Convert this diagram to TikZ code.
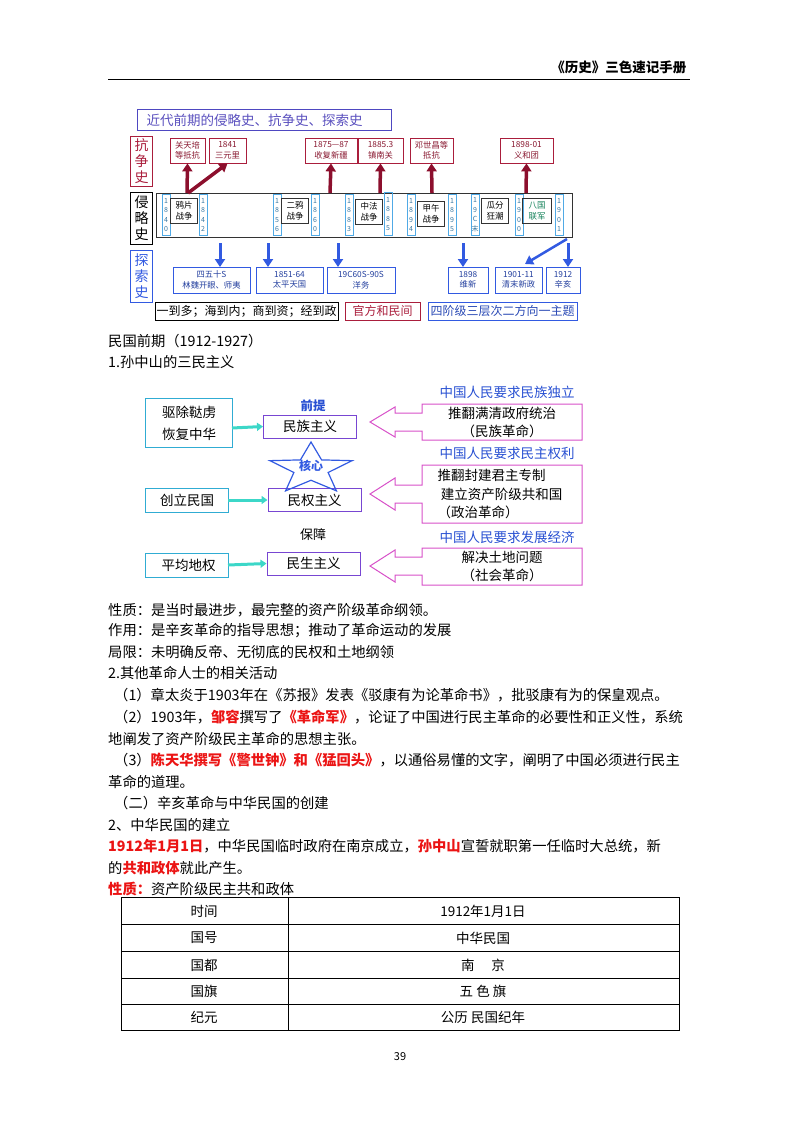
\documentclass[tikz,border=0pt]{standalone}
\usepackage{fontspec}
\setmainfont{Noto Sans CJK SC}
\usetikzlibrary{arrows.meta,shapes.geometric}
\definecolor{tred}{RGB}{170,30,60}
\definecolor{darr}{RGB}{140,15,45}
\definecolor{tblue}{RGB}{50,90,225}
\definecolor{ybox}{RGB}{80,170,230}
\definecolor{ttl}{RGB}{90,80,190}
\definecolor{cy}{RGB}{60,215,200}
\definecolor{purp}{RGB}{120,70,210}
\definecolor{pink}{RGB}{215,80,200}
\definecolor{hblue}{RGB}{40,80,210}
\definecolor{rtext}{RGB}{235,20,20}
\definecolor{ggreen}{RGB}{20,130,90}
\tikzset{
 yrbox/.style={draw=ybox,line width=0.8pt,inner sep=0pt,minimum width=8,minimum height=41,font=\fontsize{7}{9.5}\selectfont,text=ybox!70!black,align=center},
 evbox/.style={draw=black!80,line width=0.8pt,inner sep=1pt,minimum width=27,minimum height=25,font=\fontsize{8.5}{10.5}\selectfont,align=center},
 rbox/.style={draw=tred,line width=0.8pt,inner sep=0pt,minimum height=25,font=\fontsize{8.3}{10.5}\selectfont,text=tred!80!black,align=center},
 bbox/.style={draw=tblue,line width=0.8pt,inner sep=0pt,minimum height=26,font=\fontsize{8.3}{10.5}\selectfont,text=tblue!70!black,align=center},
 uparr/.style={darr,line width=3.5pt,-{Triangle[width=10pt,length=8pt]}},
 dnarr/.style={tblue,line width=3pt,-{Triangle[width=10pt,length=8pt]}},
 cyarr/.style={cy,line width=3pt,-{Triangle[width=8pt,length=6pt]}},
 lbox/.style={draw=cy!80!blue,line width=1pt,anchor=north west,font=\fontsize{13.5}{22}\selectfont,align=left,inner sep=5pt},
 mbox/.style={draw=purp,line width=1pt,font=\fontsize{13.5}{15}\selectfont,minimum width=93,minimum height=23},
 hd/.style={text=hblue,font=\fontsize{13.5}{15}\selectfont},
 body/.style={anchor=west,inner sep=0pt,font=\fontsize{14.3}{16}\selectfont},
 cell/.style={font=\fontsize{13.5}{15}\selectfont,inner sep=0pt},
 pk/.style={pink,line width=1pt}
}
\begin{document}
\begin{tikzpicture}[x=1pt,y=-1pt]
\useasboundingbox (0,0) rectangle (800,1132);
% header
\node[anchor=east,font=\bfseries\fontsize{13.5}{15}\selectfont] (hdr) at (690,67) {《历史》三色速记手册};
\draw[line width=0.6pt] (108,79) coordinate (hl) -- (690,79) coordinate (hr);
% ---- top diagram
\node[draw=tblue!80!purple,line width=1pt,minimum width=254,minimum height=21,anchor=north west,text=ttl,font=\fontsize{13.5}{15}\selectfont] (title) at (137,109) {\hspace*{-20pt}近代前期的侵略史、抗争史、探索史};
\node[draw=tred,line width=1pt,minimum width=22,minimum height=50,anchor=north west,text=tred,font=\fontsize{14}{16}\selectfont,align=center,inner sep=0pt] (l1) at (130,136) {抗\\争\\史};
\node[draw=black,line width=1pt,minimum width=22,minimum height=52,anchor=north west,font=\fontsize{14}{16}\selectfont,align=center,inner sep=0pt] (l2) at (130,192) {侵\\略\\史};
\node[draw=tblue,line width=1pt,minimum width=22,minimum height=52,anchor=north west,text=tblue,font=\fontsize{14}{16}\selectfont,align=center,inner sep=0pt] (l3) at (130,250) {探\\索\\史};
\node[draw=black!80,line width=1pt,minimum width=416,minimum height=44,anchor=north west] (tl) at (156,193) {};
% years
\node[yrbox] (y1840) at (166,215) {1\\8\\4\\0};
\node[yrbox] (y1842) at (203,215) {1\\8\\4\\2};
\node[yrbox] (y1856) at (277,215) {1\\8\\5\\6};
\node[yrbox] (y1860) at (315,215) {1\\8\\6\\0};
\node[yrbox] (y1883) at (349,215) {1\\8\\8\\3};
\node[yrbox,minimum height=43] (y1885) at (388,214) {1\\8\\8\\5};
\node[yrbox] (y1894) at (411,215) {1\\8\\9\\4};
\node[yrbox] (y1895) at (452,215) {1\\8\\9\\5};
\node[yrbox] (y19c) at (475,215) {1\\9\\C\\末};
\node[yrbox] (y1900) at (519,215) {1\\9\\0\\0};
\node[yrbox] (y1901) at (559,215) {1\\9\\0\\1};
% events
\node[evbox] (e1) at (184,211) {鸦片\\战争};
\node[evbox] (e2) at (295,211) {二鸦\\战争};
\node[evbox] (e3) at (369,212) {中法\\战争};
\node[evbox] (e4) at (431,214) {甲午\\战争};
\node[evbox] (e5) at (495,211) {瓜分\\狂潮};
\node[evbox,text=ggreen,minimum width=29] (e6) at (537,211) {八国\\联军};
% red boxes
\node[rbox,minimum width=35] (r1) at (187.5,150.5) {关天培\\等抵抗};
\node[rbox,minimum width=37] (r2) at (227.5,150.5) {1841\\三元里};
\node[rbox,minimum width=52] (r3) at (331,150.5) {1875—87\\收复新疆};
\node[rbox,minimum width=45] (r4) at (380.5,150.5) {1885.3\\镇南关};
\node[rbox,minimum width=43] (r5) at (431.5,150.5) {邓世昌等\\抵抗};
\node[rbox,minimum width=53] (r6) at (526.5,150.5) {1898-01\\义和团};
\coordinate (a1) at (187,193); \coordinate (a2) at (330,193);
\coordinate (a3) at (380,193); \coordinate (a4) at (432,193);
\coordinate (a5) at (526,193); \coordinate (a6) at (188,193);
\draw[uparr] (a1) -- (r1.south);
\draw[uparr] (a6) -- (r2.south);
\draw[uparr] (a2) -- (r3.south);
\draw[uparr] (a3) -- (r4.south);
\draw[uparr] (a4) -- (r5.south);
\draw[uparr] (a5) -- (r6.south);
% blue boxes
\node[bbox,minimum width=77] (b1) at (211.5,280) {四五十S\\林魏开眼、师夷};
\node[bbox,minimum width=67] (b2) at (289.5,280) {1851-64\\太平天国};
\node[bbox,minimum width=68] (b3) at (361,280) {19C60S-90S\\洋务};
\node[bbox,minimum width=40] (b4) at (468,280) {1898\\维新};
\node[bbox,minimum width=47] (b5) at (518.5,280) {1901-11\\清末新政};
\node[bbox,minimum width=34] (b6) at (563,280) {1912\\辛亥};
\coordinate (d1) at (220,243); \coordinate (d2) at (268,243);
\coordinate (d3) at (338,243); \coordinate (d4) at (463,243);
\coordinate (d5) at (568,243); \coordinate (d6) at (567,239);
\draw[dnarr] (d1) -- (220,267);
\draw[dnarr] (d2) -- (268,267);
\draw[dnarr] (d3) -- (338,267);
\draw[dnarr] (d4) -- (463,267);
\draw[dnarr] (d5) -- (568,267);
\draw[dnarr,line width=2.5pt] (d6) -- (525,264);
% legend
\node[draw=black,line width=1pt,minimum width=183,minimum height=18,inner sep=0pt,font=\fontsize{12}{13}\selectfont] (g1) at (246.5,311) {一到多；海到内；商到资；经到政};
\node[draw=tred,line width=1pt,minimum width=75,minimum height=18,inner sep=0pt,text=tred,font=\fontsize{12}{13}\selectfont] (g2) at (382.5,311) {官方和民间};
\node[draw=tblue,line width=1pt,minimum width=149,minimum height=18,inner sep=0pt,text=tblue!80!black,font=\fontsize{12}{13}\selectfont] (g3) at (502.5,311) {四阶级三层次二方向一主题};
% texts
\node[body] (t1) at (108,341) {民国前期（1912-1927）};
\node[body] (t2) at (108,362) {1.孙中山的三民主义};
% ---- second diagram
\node[lbox,minimum width=87,minimum height=49] (s1) at (145,398) {驱除鞑虏\\恢复中华};
\node[lbox,minimum width=83,minimum height=24,inner sep=3pt] (s2) at (145,488) {创立民国};
\node[lbox,minimum width=83,minimum height=24,inner sep=3pt,align=center] (s3) at (145,553) {\ 平均地权};
\node[mbox] (m1) at (310,426.5) {民族主义};
\node[mbox] (m2) at (314.5,500) {民权主义};
\node[mbox] (m3) at (313.5,563.5) {民生主义};
\draw[cyarr] (232,428) -- (m1.west);
\draw[cyarr] (228,500) -- (m2.west);
\draw[cyarr] (228,565) -- (m3.west);
\node[hd,font=\bfseries\fontsize{12.5}{14}\selectfont] (qt) at (313,406) {前提};
\node[font=\fontsize{13}{14}\selectfont] (bz) at (313,535) {保障};
\node[star,star points=5,star point ratio=2.4,draw=tblue,line width=1.2pt,minimum size=54,xscale=1.6,inner sep=0pt] (star) at (311,469) {};
\node[text=tblue,font=\bfseries\fontsize{12}{13}\selectfont] (hx) at (311,466) {核心};
\node[hd] (h1) at (507,392) {中国人民要求民族独立};
\node[hd] (h2) at (507,453) {中国人民要求民主权利};
\node[hd] (h3) at (507,537) {中国人民要求发展经济};
\draw[pk] (582,404) -- (422,404) -- (422,413) -- (395,413) -- (395,407) -- (370,422) -- (395,437) -- (395,431) -- (422,431) -- (422,440) -- (582,440) -- cycle;
\draw[pk] (582,465) -- (422,465) -- (422,485) -- (395,485) -- (395,478) -- (370,494) -- (395,510) -- (395,503) -- (422,503) -- (422,523) -- (582,523) -- cycle;
\draw[pk] (582,548) -- (422,548) -- (422,557) -- (395,557) -- (395,550) -- (370,566) -- (395,582) -- (395,575) -- (422,575) -- (422,585) -- (582,585) -- cycle;
\node[font=\fontsize{13.5}{18}\selectfont,align=center] (p1) at (502,422) {推翻满清政府统治\\（民族革命）};
\node[font=\fontsize{13.5}{18.5}\selectfont,align=left] (p2) at (500,494) {推翻封建君主专制\\\ 建立资产阶级共和国\\（政治革命）};
\node[font=\fontsize{13.5}{18}\selectfont,align=center] (p3) at (502,566) {解决土地问题\\（社会革命）};
% ---- body text
\node[body] (x1) at (108,610) {性质：是当时最进步，最完整的资产阶级革命纲领。};
\node[body] (x2) at (108,631) {作用：是辛亥革命的指导思想；推动了革命运动的发展};
\node[body] (x3) at (108,652) {局限：未明确反帝、无彻底的民权和土地纲领};
\node[body] (x4) at (108,673) {2.其他革命人士的相关活动};
\node[body] (x5) at (114,695) {（1）章太炎于1903年在《苏报》发表《驳康有为论革命书》，批驳康有为的保皇观点。};
\node[body] (x6) at (114,717) {（2）1903年，\textcolor{rtext}{\bfseries 邹容}撰写了\textcolor{rtext}{\bfseries 《革命军》}，论证了中国进行民主革命的必要性和正义性，系统};
\node[body] (x7) at (108,739) {地阐发了资产阶级民主革命的思想主张。};
\node[body] (x8) at (114,760) {（3）\textcolor{rtext}{\bfseries 陈天华撰写《警世钟》和《猛回头》}，以通俗易懂的文字，阐明了中国必须进行民主};
\node[body] (x9) at (108,782) {革命的道理。};
\node[body] (x10) at (114,803) {（二）辛亥革命与中华民国的创建};
\node[body] (x11) at (108,825) {2、中华民国的建立};
\node[body] (x12) at (108,846) {\textcolor{rtext}{\bfseries 1912年1月1日}，中华民国临时政府在南京成立，\textcolor{rtext}{\bfseries 孙中山}宣誓就职第一任临时大总统，新};
\node[body] (x13) at (108,868) {的\textcolor{rtext}{\bfseries 共和政体}就此产生。};
\node[body] (x14) at (108,889) {\textcolor{rtext}{\bfseries 性质：}资产阶级民主共和政体};
% ---- table
\draw[line width=0.8pt] (121,897) rectangle (679,1030);
\foreach \yy in {924,951,978,1004} \draw[line width=0.8pt] (121,\yy) -- (679,\yy);
\draw[line width=0.8pt] (288,897) -- (288,1030);
\node[cell] (c11) at (204,911) {时间}; \node[cell] (c12) at (483,911) {1912年1月1日};
\node[cell] (c21) at (204,938) {国号}; \node[cell] (c22) at (483,938) {中华民国};
\node[cell] (c31) at (204,965) {国都}; \node[cell] (c32) at (483,965) {南\quad\ 京};
\node[cell] (c41) at (204,991) {国旗}; \node[cell] (c42) at (483,991) {五 色 旗};
\node[cell] (c51) at (204,1017) {纪元}; \node[cell] (c52) at (483,1017) {公历 民国纪年};
\node[font=\fontsize{11}{12}\selectfont] (pg) at (400,1057) {39};
\end{tikzpicture}
\end{document}
